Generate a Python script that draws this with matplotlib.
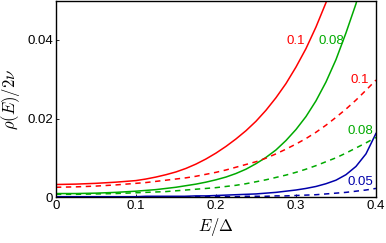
import numpy as np
import matplotlib
matplotlib.use('Agg')
import matplotlib.pyplot as plt

plt.rcParams['mathtext.fontset'] = 'cm'
plt.rcParams['font.family'] = ['Liberation Sans', 'DejaVu Sans']

# energy grid E/Delta
E = [0, 0.025, 0.05, 0.075, 0.1, 0.1125, 0.125, 0.1375, 0.15, 0.1625,
     0.175, 0.1875, 0.2, 0.2125, 0.225, 0.2375, 0.25, 0.2625, 0.275, 0.2875,
     0.3, 0.3125, 0.325, 0.3375, 0.35, 0.3625, 0.375, 0.3875, 0.4]

red_solid = [0.0032, 0.0033, 0.0035, 0.0038, 0.0042, 0.0046, 0.0051, 0.0057,
             0.0064, 0.0073, 0.0084, 0.0097, 0.0112, 0.0129, 0.0148, 0.0169,
             0.0193, 0.0221, 0.0253, 0.0289, 0.0331, 0.0378, 0.0433, 0.0495,
             0.0566, 0.0648, 0.0741, 0.0848, 0.0970]
red_dashed = [0.0025, 0.0026, 0.0028, 0.0031, 0.0035, 0.0037, 0.0040, 0.0043,
              0.0046, 0.0049, 0.0053, 0.0058, 0.0063, 0.0069, 0.0076, 0.0083,
              0.0090, 0.0099, 0.0110, 0.0122, 0.0135, 0.0149, 0.0165, 0.0183,
              0.0203, 0.0224, 0.0247, 0.0272, 0.0298]
green_solid = [0.0009, 0.0009, 0.0010, 0.0012, 0.0015, 0.0017, 0.0019, 0.0022,
               0.0025, 0.0029, 0.0033, 0.0038, 0.0044, 0.0051, 0.0060, 0.0071,
               0.0085, 0.0101, 0.0120, 0.0144, 0.0172, 0.0205, 0.0245, 0.0293,
               0.0350, 0.0418, 0.0492, 0.0585, 0.0700]
green_dashed = [0.0007, 0.0007, 0.0008, 0.0009, 0.0011, 0.0012, 0.0013, 0.0014,
                0.0016, 0.0018, 0.0020, 0.0022, 0.0024, 0.0027, 0.0030, 0.0034,
                0.0039, 0.0044, 0.0050, 0.0056, 0.0063, 0.0071, 0.0080, 0.0090,
                0.0100, 0.0112, 0.0125, 0.0138, 0.0152]
blue_solid = [0.0001, 0.0001, 0.0001, 0.0001, 0.0001, 0.0002, 0.0002, 0.0002,
              0.0002, 0.0002, 0.0003, 0.0003, 0.0004, 0.0005, 0.0006, 0.0007,
              0.0008, 0.0010, 0.0012, 0.0015, 0.0018, 0.0022, 0.0027, 0.0034,
              0.0043, 0.0057, 0.0078, 0.0110, 0.0162]
blue_dashed = [0.0000, 0.0000, 0.0000, 0.0000, 0.0000, 0.0000, 0.0000, 0.0000,
               0.0000, 0.0001, 0.0001, 0.0001, 0.0001, 0.0001, 0.0001, 0.0002,
               0.0002, 0.0002, 0.0003, 0.0003, 0.0004, 0.0005, 0.0006, 0.0008,
               0.0010, 0.0012, 0.0015, 0.0018, 0.0022]

red = '#ff0000'
green = '#00aa00'
blue = '#0000aa'

fig = plt.figure(figsize=(3.86, 2.43), dpi=100)
ax = fig.add_axes([0.145, 0.189, 0.829, 0.808])

lw = 1.1
ax.plot(E, red_solid, color=red, lw=lw)
ax.plot(E, green_solid, color=green, lw=lw)
ax.plot(E, blue_solid, color=blue, lw=lw)
ax.plot(E, red_dashed, color=red, lw=lw, dashes=(3.5, 3))
ax.plot(E, green_dashed, color=green, lw=lw, dashes=(3.5, 3))
ax.plot(E, blue_dashed, color=blue, lw=lw, dashes=(3.5, 3))

fs = 9.5
ax.text(0.2996, 0.0397, '0.1', color=red, fontsize=fs, ha='center', va='center')
ax.text(0.3446, 0.0397, '0.08', color=green, fontsize=fs, ha='center', va='center')
ax.text(0.380, 0.0298, '0.1', color=red, fontsize=fs, ha='center', va='center')
ax.text(0.380, 0.0168, '0.08', color=green, fontsize=fs, ha='center', va='center')
ax.text(0.380, 0.0039, '0.05', color=blue, fontsize=fs, ha='center', va='center')

ax.set_xlim(0, 0.4)
ax.set_ylim(0, 0.05)
ax.set_xticks([0, 0.1, 0.2, 0.3, 0.4])
ax.set_xticklabels(['0', '0.1', '0.2', '0.3', '0.4'])
ax.set_yticks([0, 0.02, 0.04])
ax.set_yticklabels(['0', '0.02', '0.04'])
ax.tick_params(direction='in', length=2.5, width=0.6, labelsize=fs, pad=2)
for s in ax.spines.values():
    s.set_linewidth(1.0)

ax.set_xlabel(r'$E/\Delta$', fontsize=12, labelpad=3)
ax.set_ylabel(r'$\rho(E)/2\nu$', fontsize=12, labelpad=4)

fig.savefig('out.png', dpi=100)
